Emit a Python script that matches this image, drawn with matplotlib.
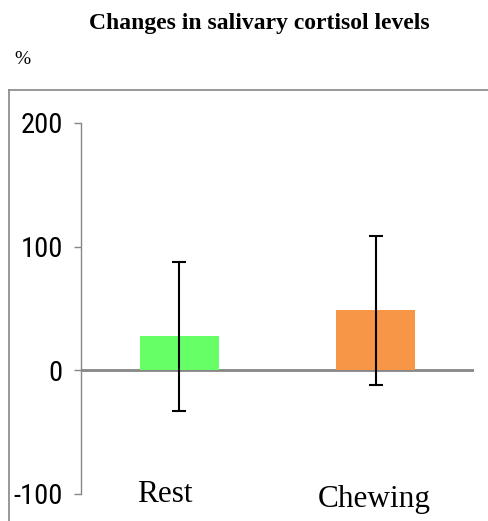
import matplotlib
matplotlib.use('Agg')
from matplotlib import pyplot as plt
from matplotlib.lines import Line2D

# data
categories = ['Rest', 'Chewing']
means = [27.5, 48.5]
errors = [60, 60]
colors = ['#66FF66', '#F79646']
y_ticks = [-100, 0, 100, 200]

W, H = 489, 521
GRAY = '#868686'
TICK_FONT = ['Roboto Condensed', 'Open Sans Condensed', 'Liberation Sans Narrow',
             'Liberation Sans']
SERIF = ['Liberation Serif', 'DejaVu Serif']


def px_x(x):
    return x / W


def px_y(y):
    return 1 - y / H


def main():
    fig = plt.figure(figsize=(W / 100, H / 100), dpi=100)

    # axes placed by pixel bounds: x 81..474, y 123..494
    left, right, top, bottom = 81, 474, 123, 494
    ax = fig.add_axes([px_x(left), px_y(bottom),
                       (right - left) / W, (bottom - top) / H])

    xs = range(len(categories))
    ax.bar(xs, means, width=0.4, color=colors, zorder=2)
    ax.errorbar(xs, means, yerr=errors, fmt='none', ecolor='black',
                elinewidth=1.5, capsize=5, capthick=1.5, zorder=3)
    ax.axhline(0, color=GRAY, lw=2, zorder=1)

    ax.set_xlim(-0.5, 1.5)
    ax.set_ylim(-100, 200)
    ax.set_yticks(y_ticks)
    ax.set_yticklabels([str(t) for t in y_ticks], family=TICK_FONT, fontsize=20.5)
    ax.tick_params(axis='y', length=5, width=1, color=GRAY, pad=8)
    ax.set_xticks([])

    for s in ['top', 'right', 'bottom']:
        ax.spines[s].set_visible(False)
    ax.spines['left'].set_color(GRAY)
    ax.spines['left'].set_linewidth(1)

    # category labels sit down at the -100 level
    label_x = [165, 374]
    label_y = [494, 500]
    for name, x, y in zip(categories, label_x, label_y):
        fig.text(px_x(x), px_y(y), name, family=SERIF, fontsize=22.5,
                 ha='center', va='center')

    fig.text(px_x(259), px_y(24), 'Changes in salivary cortisol levels',
             family=SERIF, fontsize=17, fontweight='bold',
             ha='center', va='center')
    fig.text(px_x(14), px_y(60), '%', family=SERIF, fontsize=14,
             ha='left', va='center')

    # frame around the plot (left and top edges show)
    fig.add_artist(Line2D([px_x(9), px_x(9)], [px_y(90), 0], color=GRAY, lw=1.2))
    fig.add_artist(Line2D([px_x(9), 1], [px_y(90), px_y(90)], color=GRAY, lw=1.2))

    fig.savefig('out.png', dpi=100)


if __name__ == '__main__':
    main()
